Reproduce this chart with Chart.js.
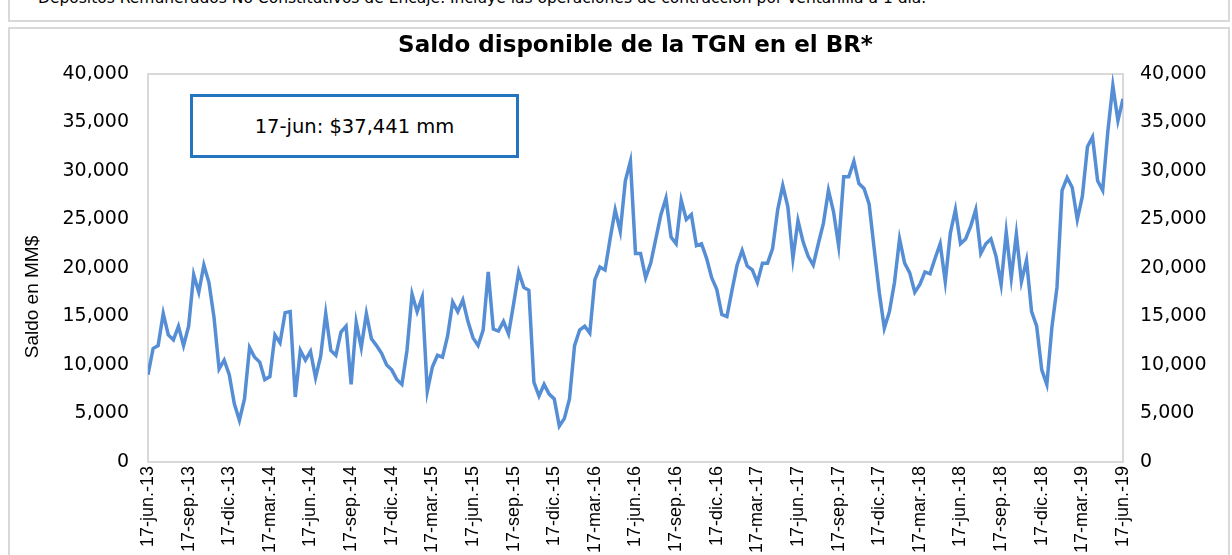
<!DOCTYPE html>
<html>
<head>
<meta charset="utf-8">
<script src="https://cdn.jsdelivr.net/npm/chart.js@4.4.1/dist/chart.umd.min.js"></script>
<style>
  body { margin: 0; background: #fff; width: 1232px; height: 555px; overflow: hidden; position: relative; }
  #note { position: absolute; left: 38px; top: -10px; font: 15.5px "DejaVu Sans", sans-serif; line-height: 16px; color: #000; white-space: nowrap; }
  #strip { position: absolute; left: 8px; top: 0; width: 1218px; height: 20px; border: 2px solid #d9d9d9; border-top: none; }
  #frame { position: absolute; left: 8px; top: 27px; width: 1218px; height: 560px; border: 2px solid #d9d9d9; }
  #wrap { position: absolute; left: 0; top: 0; width: 1232px; height: 555px; }
  #box { position: absolute; left: 190px; top: 94px; width: 329px; height: 64px; box-sizing: border-box;
         border: 3px solid #2474bf; background: #fff; display: flex; align-items: center; justify-content: center;
         font: 19.5px "DejaVu Sans", sans-serif; color: #000; }
</style>
</head>
<body>
<div id="note">Depósitos Remunerados No Constitutivos de Encaje. Incluye las operaciones de contracción por ventanilla a 1 día.</div>
<div id="strip"></div>
<div id="frame"></div>
<div id="wrap"><canvas id="saldoChart" width="1232" height="555"></canvas></div>
<div id="box">17-jun: $37,441 mm</div>
<script>
/* ===========================
   DATA (saldo en MM$, 8 lecturas por trimestre)
=========================== */

const tickLabels = [
  "17-jun.-13", "17-sep.-13", "17-dic.-13", "17-mar.-14", "17-jun.-14",
  "17-sep.-14", "17-dic.-14", "17-mar.-15", "17-jun.-15", "17-sep.-15",
  "17-dic.-15", "17-mar.-16", "17-jun.-16", "17-sep.-16", "17-dic.-16",
  "17-mar.-17", "17-jun.-17", "17-sep.-17", "17-dic.-17", "17-mar.-18",
  "17-jun.-18", "17-sep.-18", "17-dic.-18", "17-mar.-19", "17-jun.-19"
];

const saldo13_14 = [9000, 11700, 12000, 15300, 13100, 12600, 14000, 12000,
  14000, 19300, 17500, 20300, 18500, 14900, 9600, 10500,
  9000, 6000, 4300, 6500, 11800, 10800, 10300, 8500,
  8800, 13100, 12300, 15400, 15500, 6700, 11500, 10500];
const saldo14_15 = [11400, 8700, 10900, 15300, 11500, 11000, 13400, 14000,
  8000, 14400, 11800, 15300, 12700, 12000, 11200, 10000,
  9500, 8500, 8000, 11500, 17300, 15500, 17000, 7300,
  9800, 11000, 10800, 13000, 16500, 15500, 16700, 14500];
const saldo15_16 = [12800, 12000, 13600, 19600, 13700, 13500, 14500, 13200,
  16300, 19600, 18000, 17700, 8200, 6800, 8000, 7000,
  6500, 3700, 4500, 6500, 12000, 13600, 14000, 13300,
  18800, 20100, 19800, 23000, 26000, 23800, 29000, 31000];
const saldo16_17 = [21500, 21500, 19000, 20500, 23000, 25500, 27200, 23200,
  22500, 27000, 25000, 25500, 22300, 22500, 21000, 19000,
  17800, 15200, 15000, 17700, 20300, 21800, 20200, 19800,
  18500, 20500, 20500, 22000, 26000, 28500, 26300, 21000];
const saldo17_18 = [24900, 22700, 21200, 20300, 22500, 24600, 28000, 25800,
  22300, 29400, 29400, 31000, 28700, 28200, 26600, 22000,
  17500, 13800, 15500, 18500, 23000, 20500, 19500, 17500,
  18300, 19600, 19400, 21000, 22500, 18600, 23600, 26000];
const saldo18_19 = [22500, 23000, 24300, 26000, 21500, 22500, 23000, 21200,
  18300, 23700, 19000, 23500, 18600, 20800, 15500, 14000,
  9500, 8000, 13900, 18000, 28000, 29300, 28300, 25000,
  27400, 32500, 33500, 29000, 28000, 34000, 38800, 35200, 37441];

const perQuarter = 8;
const saldo = [].concat(saldo13_14, saldo14_15, saldo15_16, saldo16_17, saldo17_18, saldo18_19);
const points = saldo.map((v, i) => ({ x: i / perQuarter, y: v }));

/* ===========================
   PLUGINS
=========================== */

const plotFrame = {
  id: "plotFrame",
  beforeDatasetsDraw(chart) {
    const a = chart.chartArea;
    const ctx = chart.ctx;
    ctx.save();
    ctx.strokeStyle = "#d9d9d9";
    ctx.lineWidth = 2;
    ctx.strokeRect(a.left, a.top, a.right - a.left, a.bottom - a.top);
    ctx.restore();
  },
  afterDraw(chart) {
    const ctx = chart.ctx;
    ctx.save();
    ctx.translate(33, 297);
    ctx.rotate(-Math.PI / 2);
    ctx.font = "19px 'Liberation Sans', Arial, sans-serif";
    ctx.fillStyle = "#000";
    ctx.textAlign = "center";
    ctx.textBaseline = "middle";
    ctx.fillText("Saldo en MM$", 0, 0);
    ctx.restore();
  }
};

/* ===========================
   LINE CHART
=========================== */

const fmt = v => v.toLocaleString("en-US");
const yTicks = {
  stepSize: 5000,
  color: "#000",
  font: { family: "'DejaVu Sans', sans-serif", size: 19 },
  callback: fmt
};

new Chart(document.getElementById("saldoChart").getContext("2d"), {
  type: "line",
  data: {
    datasets: [{
      label: "Saldo TGN",
      data: points,
      borderColor: "#558ed5",
      borderWidth: 3.5,
      pointRadius: 0,
      tension: 0,
      fill: false
    }]
  },
  options: {
    responsive: false,
    animation: false,
    layout: { padding: { top: 32, left: 0, right: 0, bottom: 0 } },
    plugins: {
      legend: { display: false },
      tooltip: { enabled: false },
      title: {
        display: true,
        text: "Saldo disponible de la TGN en el BR*",
        fullSize: false,
        color: "#000",
        font: { family: "'DejaVu Sans', sans-serif", size: 23, weight: "bold", lineHeight: 1.2 },
        padding: { top: 0, bottom: 14.4 }
      }
    },
    scales: {
      x: {
        type: "linear",
        min: 0,
        max: tickLabels.length - 1,
        grid: { display: false, drawTicks: false },
        border: { display: false },
        afterFit: s => { s.height = 93; },
        afterBuildTicks: s => { s.ticks = tickLabels.map((t, i) => ({ value: i })); },
        ticks: {
          autoSkip: false,
          minRotation: 90,
          maxRotation: 90,
          padding: 4,
          color: "#000",
          font: { family: "'Liberation Sans', Arial, sans-serif", size: 18 },
          callback: v => tickLabels[v]
        }
      },
      y: {
        position: "left",
        min: 0,
        max: 40000,
        grid: { display: false, drawTicks: false },
        border: { display: false },
        afterFit: s => { s.width = 148; },
        ticks: Object.assign({ padding: 19 }, yTicks)
      },
      y2: {
        position: "right",
        min: 0,
        max: 40000,
        grid: { display: false, drawTicks: false },
        border: { display: false },
        afterFit: s => { s.width = 109; },
        ticks: Object.assign({ padding: 17 }, yTicks)
      }
    }
  },
  plugins: [plotFrame]
});
</script>
</body>
</html>
